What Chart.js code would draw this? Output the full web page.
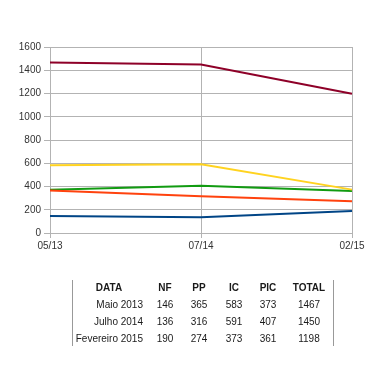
<!DOCTYPE html>
<html><head><meta charset="utf-8">
<script src="https://cdn.jsdelivr.net/npm/chart.js@4"></script>
<style>
html,body{margin:0;padding:0;background:#fff;width:385px;height:384px;overflow:hidden;font-family:"Liberation Sans",Arial,sans-serif;}
#wrap{position:absolute;left:0;top:0;width:385px;height:255px;}
#tbl{position:absolute;left:0;top:0;width:385px;height:384px;pointer-events:none;}
.c{position:absolute;font-size:10px;color:#1a1a1a;white-space:nowrap;line-height:12px;}
.vl{position:absolute;width:1px;background:#999;}
</style></head><body>
<div id="wrap"><canvas id="ch" width="385" height="255"></canvas></div>
<div id="tbl"></div>
<script>
const labels = ["05/13","07/14","02/15"];
const rowNames = ["Maio 2013","Julho 2014","Fevereiro 2015"];
const seriesNames = ["NF","PP","IC","PIC","TOTAL"];
const NF = [146,136,190];
const PP = [365,316,274];
const IC = [583,591,373];
const PIC = [373,407,361];
const TOTAL = [1467,1450,1198];
const yTicks = [0,200,400,600,800,1000,1200,1400,1600];

const colors = {NF:"#004586",PP:"#ff420e",IC:"#ffd320",PIC:"#119b11",TOTAL:"#8e0028"};
const values = {NF,PP,IC,PIC,TOTAL};

new Chart(document.getElementById("ch"), {
  type:"line",
  data:{labels, datasets: seriesNames.map(n=>({label:n,data:values[n],borderColor:colors[n],backgroundColor:colors[n],borderWidth:2,pointRadius:0,tension:0}))},
  options:{
    responsive:false,animation:false,
    layout:{padding:{top:47,right:33,left:0,bottom:0}},
    plugins:{legend:{display:false},tooltip:{enabled:false}},
    scales:{
      x:{offset:false,
         grid:{color:"#b3b3b3",drawTicks:true,tickLength:5,lineWidth:1},
         border:{color:"#b3b3b3"},
         ticks:{color:"#333",font:{family:"Liberation Sans, Arial",size:10},padding:2,maxRotation:0,autoSkip:false},
         afterFit:s=>{s.height=22;}},
      y:{min:0,max:1600,
         afterBuildTicks:s=>{s.ticks=yTicks.map(v=>({value:v}));},
         grid:{color:"#b3b3b3",tickLength:6,lineWidth:1},
         border:{color:"#b3b3b3"},
         ticks:{color:"#333",font:{family:"Liberation Sans, Arial",size:10},padding:3,callback:v=>String(v)},
         afterFit:s=>{s.width=50;}}
    }
  }
});

// table
const tbl = document.getElementById("tbl");
function cell(txt,x,y,align,bold){
  const d=document.createElement("div");d.className="c";d.textContent=txt;
  if(bold)d.style.fontWeight="bold";
  d.style.top=(y-6)+"px";
  if(align==="center"){d.style.left=x+"px";d.style.transform="translateX(-50%)";}
  else if(align==="right"){d.style.right=(385-x)+"px";}
  tbl.appendChild(d);
}
const colX=[165,199,234,268,309];
const headY=288;
const rowY=[305,321.5,339];
cell("DATA",109,headY,"center",true);
seriesNames.forEach((n,i)=>cell(n,colX[i],headY,"center",true));
rowNames.forEach((r,j)=>{
  cell(r,143,rowY[j],"right",false);
  seriesNames.forEach((n,i)=>cell(String(values[n][j]),colX[i],rowY[j],"center",false));
});
[72,333].forEach(x=>{const v=document.createElement("div");v.className="vl";v.style.left=x+"px";v.style.top="280px";v.style.height="66px";tbl.appendChild(v);});
</script>
</body></html>
